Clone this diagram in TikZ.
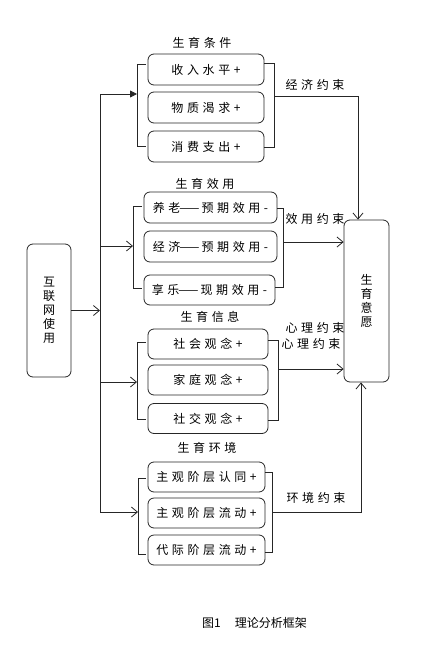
\documentclass[tikz,border=0pt]{standalone}
\usepackage{fontspec}
\setmainfont{Noto Sans CJK SC}
\newfontfamily\spaced[LetterSpace=30]{Noto Sans CJK SC}
\newcommand{\longdash}{{\addfontfeature{LetterSpace=0}\hspace{-1pt}——\hspace{2pt}}}
\usetikzlibrary{arrows.meta}
\begin{document}
\begin{tikzpicture}[x=1pt,y=-1pt,
  ln/.style={line width=0.8pt, draw=black!85},
  box/.style={ln, draw, rounded corners=6pt, inner sep=0pt, font=\spaced\fontsize{12}{14}\selectfont},
  lbl/.style={inner sep=0pt, font=\spaced\fontsize{12}{14}\selectfont},
  vbox/.style={box, align=center, font=\fontsize{12}{14}\selectfont},
  arr/.style={ln, -{Straight Barb[length=6pt,width=10pt,line width=0.8pt]}},
  farr/.style={ln, -{Triangle[length=7pt,width=7pt]}}]
\useasboundingbox (0,0) rectangle (432,648);

% input and output
\node[vbox, minimum width=44pt, minimum height=133pt] (in) at (49,310.5) {互\\联\\网\\使\\用};
\node[vbox, minimum width=45pt, minimum height=162pt] (out) at (366.5,301) {生\\育\\意\\愿};

% group 1
\node[lbl] (g1) at (202,43) {生育条件};
\node[box, minimum width=116pt, minimum height=31pt] (a1) at (206,69.5) {收入水平+};
\node[box, minimum width=116pt, minimum height=31pt] (a2) at (206,107.5) {物质渴求+};
\node[box, minimum width=116pt, minimum height=31pt] (a3) at (206,146.5) {消费支出+};
\draw[ln] (146,64) -| (137,146) -- (146,146);
\draw[ln] (264,63) -| (274,147) -- (264,147);
\coordinate (l1) at (137,94);
\coordinate (r1) at (274,96);
\coordinate (e1) at (358,96);
\node[lbl] (k1) at (315,85) {经济约束};

% group 2
\node[lbl] (g2) at (205,184) {生育效用};
\node[box, minimum width=133pt, minimum height=31pt] (b1) at (210.5,207.5) {养老\longdash 预期效用-};
\node[box, minimum width=133pt, minimum height=31pt] (b2) at (210.5,246.5) {经济\longdash 预期效用-};
\node[box, minimum width=131pt, minimum height=30pt] (b3) at (209.5,290) {享乐\longdash 现期效用-};
\draw[ln] (142,206) -| (133,288) -- (142,288);
\draw[ln] (277,208) -| (283,287) -- (275,287);
\coordinate (l2) at (133,246);
\coordinate (r2) at (283,242);
\node[lbl] (k2) at (315,219) {效用约束};

% group 3
\node[lbl] (g3) at (210,317) {生育信息};
\node[box, minimum width=120pt, minimum height=30pt] (c1) at (208,344) {社会观念+};
\node[box, minimum width=120pt, minimum height=30pt] (c2) at (208,380) {家庭观念+};
\node[box, minimum width=120pt, minimum height=30pt] (c3) at (208,418.5) {社交观念+};
\draw[ln] (146,342) -| (137,419) -- (146,419);
\draw[ln] (268,340) -| (278,420) -- (268,420);
\coordinate (l3) at (137,382);
\coordinate (r3) at (278,369);
\node[lbl] (k3) at (315,328) {心理约束};
\node[lbl] (k3b) at (311,344) {心理约束};

% group 4
\node[lbl] (g4) at (207,448) {生育环境};
\node[box, minimum width=117pt, minimum height=30pt] (d1) at (206.5,477) {主观阶层认同+};
\node[box, minimum width=117pt, minimum height=30pt] (d2) at (206.5,513) {主观阶层流动+};
\node[box, minimum width=117pt, minimum height=30pt] (d3) at (206.5,550) {代际阶层流动+};
\draw[ln] (146,478) -| (138,554) -- (146,554);
\draw[ln] (265,472) -| (272,552) -- (265,552);
\coordinate (l4) at (138,512);
\coordinate (r4) at (272,512);
\coordinate (e4) at (361,512);
\node[lbl] (k4) at (316,498) {环境约束};

% trunk
\coordinate (t1) at (100,94);
\coordinate (t2) at (100,246);
\coordinate (t3) at (100,382);
\coordinate (t4) at (100,512);
\coordinate (tin) at (100,310.5);
\draw[ln] (t1) -- (t4);
\draw[arr] (in.east) -- (tin);
\draw[farr] (t1) -- (l1);
\draw[arr] (t2) -- (l2);
\draw[arr] (t3) -- (l3);
\draw[arr] (t4) -- (l4);

% outputs
\draw[arr] (r1) -- (e1) -- (e1 |- out.north);
\draw[arr] (r2) -- (r2 -| out.west);
\draw[arr] (r3) -- (r3 -| out.west);
\draw[arr] (r4) -- (e4) -- (e4 |- out.south);

% caption
\node[anchor=west, inner sep=0pt, font=\fontsize{12}{14}\selectfont] (cap) at (202,623) {图1\hspace{14pt}理论分析框架};
\end{tikzpicture}
\end{document}
